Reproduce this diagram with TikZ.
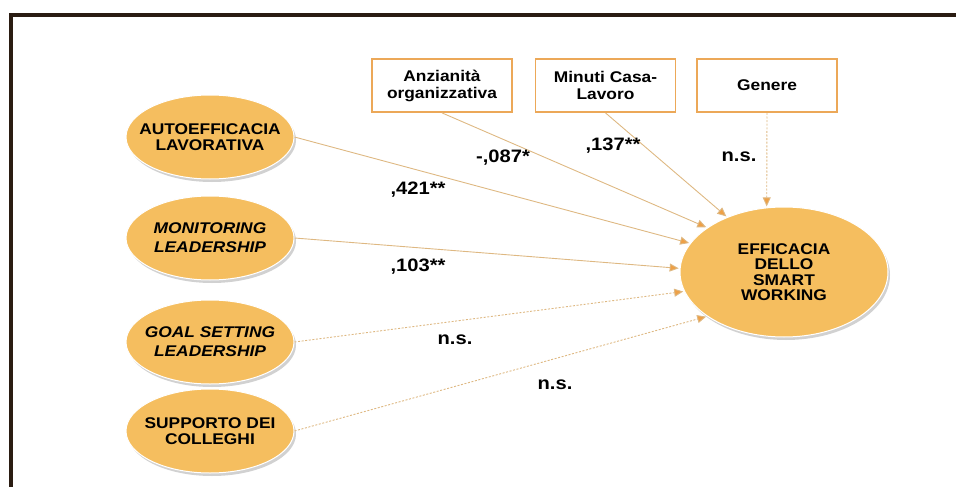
\documentclass[tikz,border=0pt]{standalone}
\usepackage{fontspec}
\setmainfont[FakeStretch=1.12]{Liberation Sans}
\usepackage{tikz}
\usetikzlibrary{arrows.meta,shapes.geometric,shadows}
\definecolor{latfill}{RGB}{245,190,95}
\definecolor{ctrlline}{RGB}{236,168,88}
\definecolor{pathline}{RGB}{222,184,130}
\definecolor{pathtip}{RGB}{238,160,70}
\definecolor{framebrown}{RGB}{42,28,18}
\tikzset{
  latent/.style = {ellipse, fill=latfill, draw=white, line width=1pt, align=center, inner xsep=-25pt, inner ysep=0pt,
                   minimum width=168pt, minimum height=84pt, font=\bfseries\fontsize{15.5}{16}\selectfont,
                   drop shadow={shadow xshift=2pt, shadow yshift=-3pt, opacity=.18, fill=black}},
  ctrl/.style   = {draw=ctrlline, line width=1.8pt, fill=white, align=center, inner sep=0pt,
                   minimum width=140pt, minimum height=53pt, font=\bfseries\fontsize{15.5}{17}\selectfont},
  path/.style   = {-{Triangle[length=9pt,width=8pt,fill=pathtip]}, draw=pathline, line width=.9pt, shorten >=1pt},
  nspath/.style = {path, dash pattern=on 2pt off 1.6pt},
  coef/.style   = {font=\bfseries\fontsize{18}{18}\selectfont, inner sep=1pt},
}
\begin{document}
\begin{tikzpicture}[x=1pt,y=-1pt]
  \useasboundingbox (0,0) rectangle (956,487);
  \begin{scope}
    \clip (0,0) rectangle (956,487);
    \draw[line width=4pt, draw=framebrown] (10.5,14.7) rectangle (1000,540);
  \end{scope}

  % predictors
  \node[latent] (auto) at (210,137) {AUTOEFFICACIA\\LAVORATIVA};
  \node[latent, font=\bfseries\itshape\fontsize{15.5}{19}\selectfont] (moni) at (210,238) {MONITORING\\LEADERSHIP};
  \node[latent, font=\bfseries\itshape\fontsize{15.5}{19}\selectfont] (goal) at (210,342) {GOAL SETTING\\LEADERSHIP};
  \node[latent] (supp) at (210,431) {SUPPORTO DEI\\COLLEGHI};

  % outcome
  \node[latent, minimum width=208pt, minimum height=130pt, font=\bfseries\fontsize{15.5}{15.5}\selectfont] (eff) at (784,272)
    {EFFICACIA\\DELLO\\SMART\\WORKING};

  % controls
  \node[ctrl] (anz) at (442,85.5) {Anzianità\\organizzativa};
  \node[ctrl] (min) at (605.5,85.5) {Minuti Casa-\\Lavoro};
  \node[ctrl] (gen) at (767,85.5) {Genere};

  \draw[path] (anz.south) -- (eff.150);
  \draw[path] (min.south) -- (eff.136);
  \draw[nspath] (gen.south) -- (eff.105);
  \draw[path] (auto.east) -- (eff.163);
  \draw[path] (moni.east) -- (eff.178);
  \draw[nspath] (goal.east) -- (eff.191);
  \draw[nspath] (supp.east) -- (eff.210);

  \node[coef] (canz) at (503,158) {-,087*};
  \node[coef] (cmin) at (613,146) {,137**};
  \node[coef] (cgen) at (739,157) {n.s.};
  \node[coef] (cauto) at (418,190) {,421**};
  \node[coef] (cmoni) at (418,267) {,103**};
  \node[coef] (cgoal) at (455,340) {n.s.};
  \node[coef] (csupp) at (555,385) {n.s.};
\end{tikzpicture}
\end{document}
